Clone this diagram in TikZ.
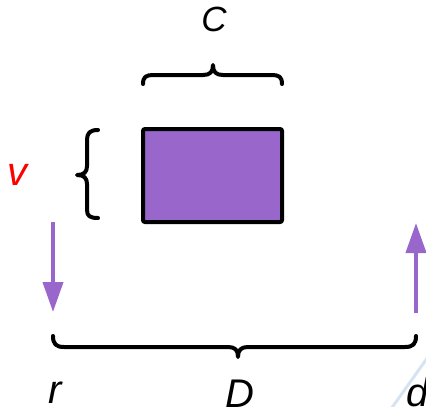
\documentclass[tikz,border=0pt]{standalone}
\usepackage{fontspec}
\setmainfont{Liberation Sans}
\usetikzlibrary{arrows.meta}
\definecolor{purp}{HTML}{9966CC}
\definecolor{faint}{RGB}{214,228,242}
\tikzset{
  lbl/.style={inner sep=0pt, anchor=base, font=\fontsize{40}{48}\selectfont\itshape},
  brace/.style={line width=4pt, line cap=round, line join=round, black},
  flow/.style={line width=4pt, purp, -{Triangle[length=30pt,width=20pt]}}
}
\begin{document}
\begin{tikzpicture}[x=1pt,y=-1pt]
\useasboundingbox (0,0) rectangle (426,407);
% faint artifact line
\draw[faint, line width=3pt] (391,409) -- (428,357);
% box
\node[draw=black, line width=4pt, fill=purp, rounded corners=2pt, minimum width=139pt, minimum height=93pt, inner sep=0pt] (box) at (212.5,175.5) {};
% top brace
\draw[brace] (143,84) .. controls (143,77) and (146,75) .. (153,75) -- (203,75) .. controls (210,75) and (213,72) .. (213,65)
  .. controls (213,72) and (216,75) .. (223,75) -- (272,75) .. controls (279,75) and (282,77) .. (282,84);
% left brace
\draw[brace] (98,130) .. controls (90,130) and (87,133) .. (87,140) -- (87,166) .. controls (87,172) and (84,175) .. (77,175)
  .. controls (84,175) and (87,178) .. (87,184) -- (87,210) .. controls (87,216) and (90,218) .. (98,218);
% bottom brace
\draw[brace] (53,336) .. controls (53,344) and (56,347) .. (64,347) -- (228,347) .. controls (235,347) and (238,350) .. (238,357)
  .. controls (238,350) and (241,347) .. (248,347) -- (405,347) .. controls (413,347) and (416,344) .. (416,336);
% arrows
\coordinate (a1s) at (53,222);
\coordinate (a1e) at (53,312);
\coordinate (a2s) at (416,313);
\coordinate (a2e) at (416,223);
\draw[flow] (a1s) -- (a1e);
\draw[flow] (a2s) -- (a2e);
% labels
\node[lbl, font=\fontsize{35}{42}\selectfont\itshape] (C) at (214,31.5) {C};
\node[lbl, text=red] (v) at (17.5,185) {v};
\node[lbl] (r) at (55,403) {r};
\node[lbl] (D) at (240,407) {D};
\node[lbl, anchor=base west] (d) at (406,406) {d};
\end{tikzpicture}
\end{document}
